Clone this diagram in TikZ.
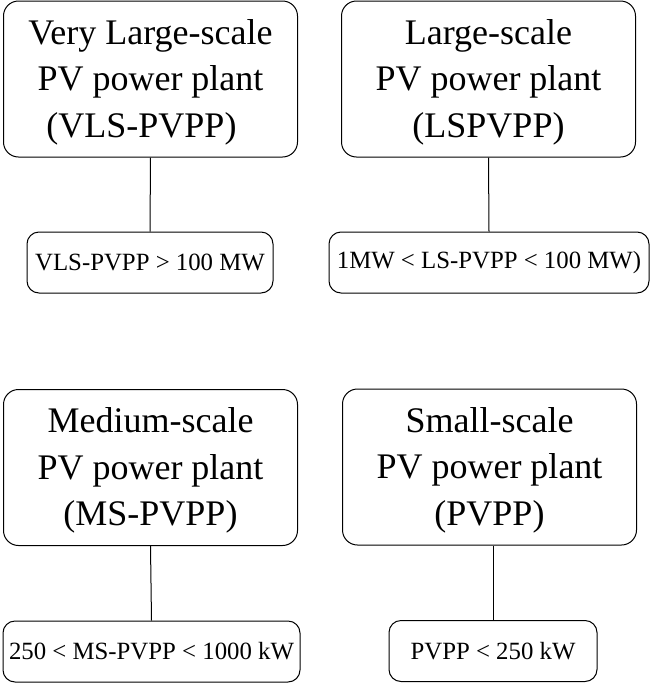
\documentclass[tikz,border=0pt]{standalone}
\usepackage{fontspec}
\setmainfont{Liberation Serif}
\tikzset{
  plantbox/.style={draw, line width=1pt, rounded corners=15pt, inner sep=0pt,
    minimum width=294pt, minimum height=156pt, align=center,
    font=\fontsize{36}{46.5}\selectfont},
  rangebox/.style={draw, line width=1pt, rounded corners=12pt, inner sep=0pt,
    minimum height=61pt, font=\fontsize{24.8}{29}\selectfont},
}
\newcommand{\topstrut}{\rule{0pt}{31pt}}
\begin{document}
\begin{tikzpicture}[x=1pt,y=-1pt]
            \useasboundingbox (0,0) rectangle (650,683);
            % Plant classes
            \node[plantbox] (vls) at (150.5,79) {\topstrut Very Large-scale\\PV power plant\\(VLS-PVPP)\hspace*{18pt}};
            \node[plantbox] (ls) at (488.5,79) {\topstrut Large-scale\\PV power plant\\(LSPVPP)};
            \node[plantbox] (ms) at (150.5,467.5) {\topstrut Medium-scale\\PV power plant\\(MS-PVPP)};
            \node[plantbox] (s) at (489.5,467) {\topstrut Small-scale\\PV power plant\\(PVPP)};
            % Capacity ranges
            \node[rangebox, minimum width=246pt] (vlsr) at (150,262.5) {VLS-PVPP > 100 MW};
            \node[rangebox, minimum width=320pt] (lsr) at (489,262.5) {1MW < LS-PVPP < 100 MW)};
            \node[rangebox, minimum width=297pt] (msr) at (151.5,651.5) {250 < MS-PVPP < 1000 kW};
            \node[rangebox, minimum width=208pt] (sr) at (493,651) {PVPP < 250 kW};
            % Links
            \draw[line width=1pt] (vls.south) -- (vlsr.north);
            \draw[line width=1pt] (ls.south) -- (lsr.north);
            \draw[line width=1pt] (ms.south) -- (msr.north);
            \draw[line width=1pt] (sr.north |- s.south) -- (sr.north);
        \end{tikzpicture}
\end{document}
